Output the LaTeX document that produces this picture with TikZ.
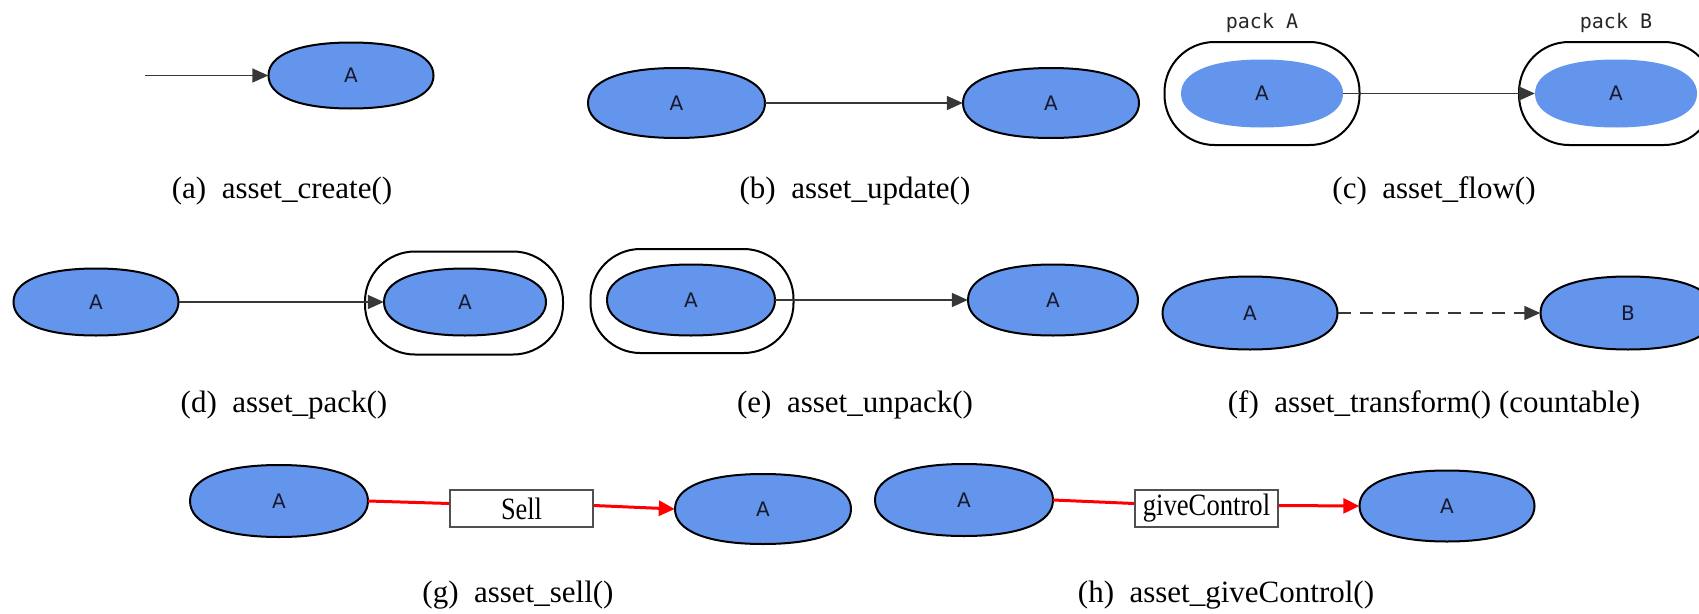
\documentclass[tikz,border=0pt]{standalone}
\usepackage{fontspec}
\usepackage{graphicx}
\setmainfont{Liberation Serif}
\newfontfamily\nodefont{DejaVu Sans}
\newfontfamily\packfont{DejaVu Sans Mono}
\usetikzlibrary{shapes.geometric,arrows.meta}

\definecolor{assetblue}{RGB}{100,149,237}
\definecolor{edgegray}{RGB}{55,55,55}
\definecolor{labelink}{RGB}{25,25,45}
\definecolor{boxgray}{RGB}{80,80,80}

\tikzset{
  assetfill/.style={fill=assetblue, draw=black, line width=2pt},
  barefill/.style={fill=assetblue},
  assetlabel/.style={ellipse, inner sep=0pt,
    font=\nodefont\fontsize{20}{20}\selectfont, text=labelink},
  packbox/.style={draw=black, line width=2pt, rounded corners=50pt,
    minimum width=198pt, minimum height=103pt, inner sep=0pt},
  flow/.style={edgegray, line width=1.6pt, -{Triangle[length=16pt,width=14pt]}},
  redlink/.style={red, line width=3pt},
  redflow/.style={redlink, -{Triangle[length=16pt,width=15pt]}},
  opbox/.style={draw=boxgray, line width=1.8pt, fill=white,
    minimum width=143pt, minimum height=37pt, inner sep=0pt,
    font=\fontsize{31}{31}\selectfont},
  caption/.style={anchor=base, font=\fontsize{31}{31}\selectfont},
  packlabel/.style={font=\packfont\fontsize{20}{20}\selectfont, text=black!85}
}

% Full-bodied oval: x, y, width, height, path style
\newcommand\ovalpath[5]{%
  \path[#5] ({#1+#3/2},#2)
    .. controls ({#1+#3/2},{#2+0.63*#4/2}) and ({#1+0.63*#3/2},{#2+#4/2}) .. (#1,{#2+#4/2})
    .. controls ({#1-0.63*#3/2},{#2+#4/2}) and ({#1-#3/2},{#2+0.63*#4/2}) .. ({#1-#3/2},#2)
    .. controls ({#1-#3/2},{#2-0.63*#4/2}) and ({#1-0.63*#3/2},{#2-#4/2}) .. (#1,{#2-#4/2})
    .. controls ({#1+0.63*#3/2},{#2-#4/2}) and ({#1+#3/2},{#2-0.63*#4/2}) .. ({#1+#3/2},#2)
    -- cycle;}
% Asset node: name, x, y, width, height, label, path style
\newcommand\assetnode[7]{%
  \ovalpath{#2}{#3}{#4}{#5}{#7}
  \node[assetlabel, minimum width=#4pt, minimum height=#5pt] (#1) at (#2,#3) {#6};}

\begin{document}
\begin{tikzpicture}[x=1pt, y=-1pt]
\useasboundingbox (0,0) rectangle (1699,613);
\clip (0,0) rectangle (1699,613);

% (a) asset_create
\coordinate (a0) at (145,75.5);
\assetnode{a1}{351}{75.5}{165}{66}{A}{assetfill}
\draw[flow] (a0) -- (a1);
\node[caption] (capa) at (282,198) {(a)\hspace{0.5em}asset\_create()};

% (b) asset_update
\assetnode{b1}{676.5}{103}{177}{70}{A}{assetfill}
\assetnode{b2}{1051}{103}{176}{70}{A}{assetfill}
\draw[flow] (b1) -- (b2);
\node[caption] (capb) at (855,198) {(b)\hspace{0.5em}asset\_update()};

% (c) asset_flow
\node[packbox, minimum width=195pt] (c1out) at (1262,93.5) {};
\assetnode{c1}{1262}{93.5}{162}{68}{A}{barefill}
\node[packlabel] (c1lab) at (1262,23) {pack A};
\node[packbox, minimum width=195pt] (c2out) at (1616.5,93.5) {};
\assetnode{c2}{1616}{93.5}{162}{68}{A}{barefill}
\node[packlabel] (c2lab) at (1616,23) {pack B};
\draw[flow] (c1.east) -- (c2.west);
\node[caption] (capc) at (1434,198) {(c)\hspace{0.5em}asset\_flow()};

% (d) asset_pack
\assetnode{d1}{96}{302}{165}{67}{A}{assetfill}
\node[packbox] (d2out) at (464,303) {};
\assetnode{d2}{465}{302}{162}{67}{A}{assetfill}
\draw[flow] (d1) -- (d2);
\node[caption] (capd) at (284,412) {(d)\hspace{0.5em}asset\_pack()};

% (e) asset_unpack
\node[packbox, minimum width=203pt, minimum height=104pt] (e1out) at (692,301) {};
\assetnode{e1}{691}{300}{168}{71}{A}{assetfill}
\assetnode{e2}{1053}{300}{170}{71}{A}{assetfill}
\draw[flow] (e1) -- (e2);
\node[caption] (cape) at (855,412) {(e)\hspace{0.5em}asset\_unpack()};

% (f) asset_transform
\assetnode{f1}{1250}{313}{175}{73}{A}{assetfill}
\assetnode{f2}{1628}{313}{175}{73}{B}{assetfill}
\draw[flow, dash pattern=on 13pt off 9pt] (f1) -- (f2);
\node[caption] (capf) at (1434,412) {(f)\hspace{0.5em}asset\_transform() (countable)};

% (g) asset_sell
\assetnode{g1}{279}{501}{178}{72}{A}{assetfill}
\node[opbox] (gop) at (521.5,508.5) {\scalebox{0.85}[1]{Sell}};
\assetnode{g2}{763}{509}{176}{70}{A}{assetfill}
\draw[redlink] (g1.east) -- ([yshift=5pt]gop.west);
\draw[redflow] ([yshift=3pt]gop.east) -- (g2.west);
\node[caption] (capg) at (518,602) {(g)\hspace{0.5em}asset\_sell()};

% (h) asset_giveControl
\assetnode{h1}{964}{500}{178}{72}{A}{assetfill}
\node[opbox, inner sep=2pt] (hop) at (1206.5,508.5) {\scalebox{0.86}[1]{giveControl}};
\assetnode{h2}{1447}{506}{175}{71}{A}{assetfill}
\draw[redlink] (h1.east) -- ([yshift=5pt]hop.west);
\draw[redflow] ([yshift=3pt]hop.east) -- (h2.west);
\node[caption] (caph) at (1226,602) {(h)\hspace{0.5em}asset\_giveControl()};
\end{tikzpicture}
\end{document}
